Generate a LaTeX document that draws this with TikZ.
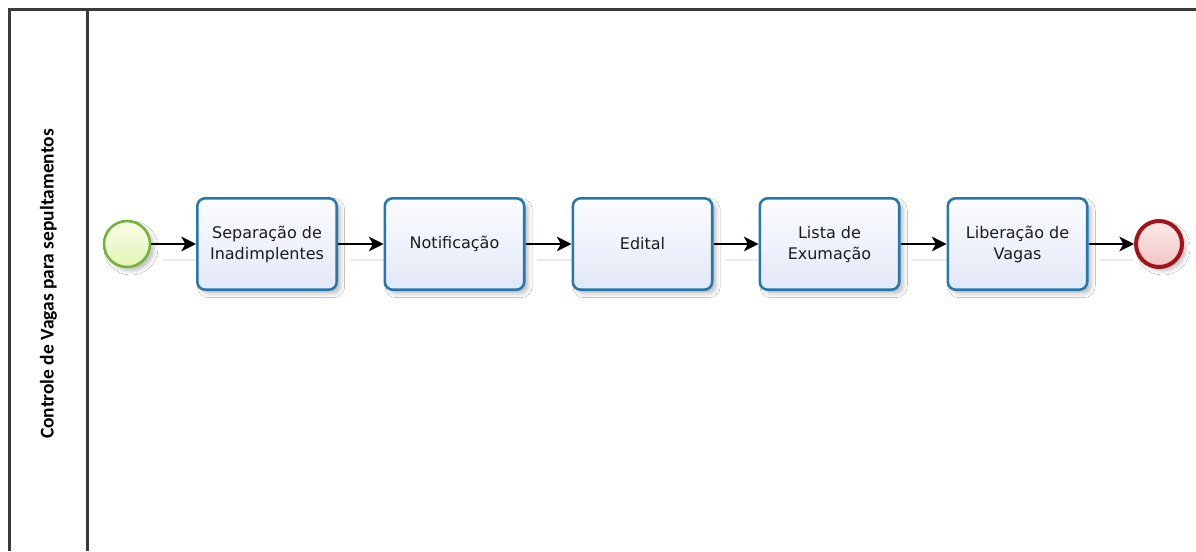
\documentclass[tikz,border=0pt]{standalone}
\usepackage{fontspec}
\usetikzlibrary{arrows.meta,shadows.blur,positioning}
\newfontfamily\taskfont{DejaVu Sans}
\newfontfamily\lanefont{Carlito}
\definecolor{laneline}{HTML}{3A3A3A}
\definecolor{taskstroke}{HTML}{2478AE}
\definecolor{tasktop}{HTML}{FBFCFF}
\definecolor{taskbottom}{HTML}{E2E8F6}
\definecolor{startstroke}{HTML}{72B43A}
\definecolor{starttop}{HTML}{F8FDE6}
\definecolor{startbottom}{HTML}{E2F5B6}
\definecolor{endstroke}{HTML}{A4121A}
\definecolor{endtop}{HTML}{FBEAEA}
\definecolor{endbottom}{HTML}{F0C4C4}
\definecolor{labeltext}{HTML}{1C1C1C}
\tikzset{
  lanerule/.style={draw=laneline, line width=1.6pt},
  task/.style={rectangle, rounded corners=6pt, draw=taskstroke, line width=1.9pt,
    top color=tasktop, bottom color=taskbottom,
    minimum width=104.6pt, minimum height=68.6pt, inner sep=0pt,
    align=center, text=labeltext,
    font=\taskfont\fontsize{12pt}{15.75pt}\selectfont,
    blur shadow={shadow xshift=3pt, shadow yshift=-3pt, shadow blur radius=3pt, shadow opacity=25}},
  startev/.style={circle, draw=startstroke, line width=1.9pt,
    top color=starttop, bottom color=startbottom,
    minimum size=34.5pt, inner sep=0pt,
    blur shadow={shadow xshift=3pt, shadow yshift=-3pt, shadow blur radius=3pt, shadow opacity=25}},
  endev/.style={circle, draw=endstroke, line width=3pt,
    top color=endtop, bottom color=endbottom,
    minimum size=34.5pt, inner sep=0pt,
    blur shadow={shadow xshift=3pt, shadow yshift=-3pt, shadow blur radius=3pt, shadow opacity=25}},
  flow/.style={draw=black, line width=1.1pt, -{Stealth[length=11pt, width=11pt, inset=3pt]}},
  flowshade/.style={draw=black!8, line width=0.8pt},
  lanelabel/.style={rotate=90, text=black, font=\lanefont\bfseries\fontsize{14.6pt}{17pt}\selectfont}
}
\begin{document}
\begin{tikzpicture}[x=0.75pt, y=-0.75pt]
\useasboundingbox (0,0) rectangle (1196,551);
\fill[white] (0,0) rectangle (1196,551);

% pool frame and lane header
\draw[lanerule] (1196,9.5) -- (9.5,9.5) -- (9.5,551);
\draw[lanerule] (87.5,9.5) -- (87.5,551);
\node[lanelabel] (lane) at (48.5,284) {Controle de Vagas para sepultamentos};

% faint shadows below the sequence flows
\foreach \a/\b in {150/196, 338/384, 525/572, 713/759, 900/947, 1088/1134}
  \draw[flowshade] (\a+12,260) -- (\b,260);

% events and tasks
\node[startev] (start) at (127,244) {};
\node[task] (t1) at (267,244) {Separação de\\Inadimplentes};
\node[task] (t2) at (454.5,244) {Notificação};
\node[task] (t3) at (642.5,244) {Edital};
\node[task] (t4) at (829.5,244) {Lista de\\Exumação};
\node[task] (t5) at (1017.5,244) {Liberação de\\Vagas};
\node[endev] (finish) at (1159,244) {};

% sequence flows
\draw[flow] (start) -- (t1);
\draw[flow] (t1) -- (t2);
\draw[flow] (t2) -- (t3);
\draw[flow] (t3) -- (t4);
\draw[flow] (t4) -- (t5);
\draw[flow] (t5) -- (finish);
\end{tikzpicture}
\end{document}
